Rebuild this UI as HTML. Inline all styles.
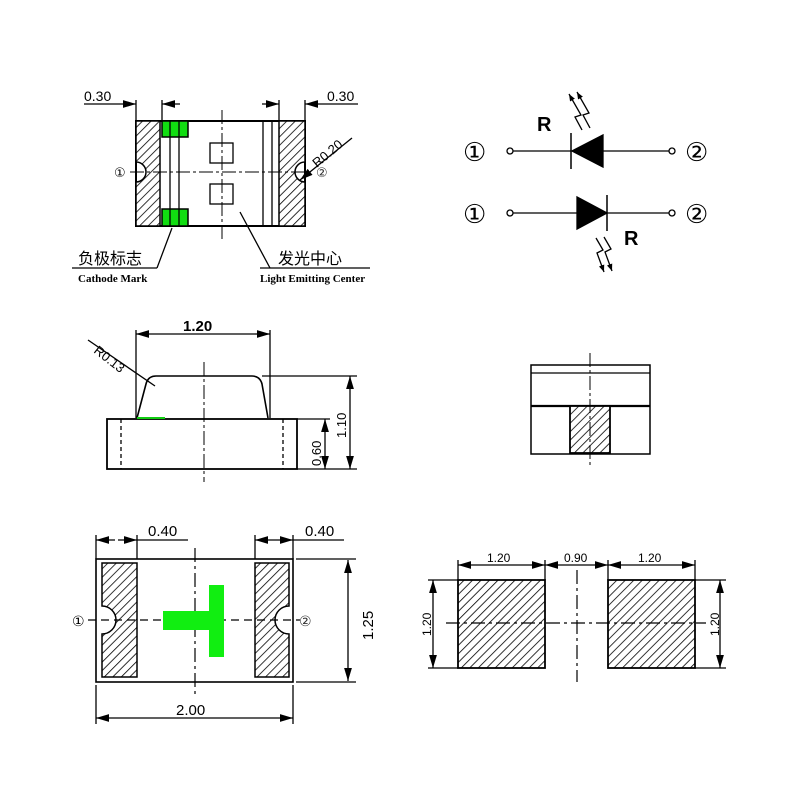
<!DOCTYPE html>
<html><head><meta charset="utf-8"><style>body{margin:0;background:#fff}svg{display:block}</style></head><body>
<svg width="800" height="800" viewBox="0 0 800 800" xmlns="http://www.w3.org/2000/svg" font-family="Liberation Sans, sans-serif">
<defs>
<pattern id="h" patternUnits="userSpaceOnUse" width="6" height="6" patternTransform="rotate(45)">
<rect width="6" height="6" fill="#fff"/><line x1="0" y1="0" x2="0" y2="6" stroke="#000" stroke-width="1.6"/></pattern>
<marker id="a" viewBox="0 0 10 6" refX="10" refY="3" markerWidth="10" markerHeight="6" orient="auto-start-reverse"><path d="M0,0L10,3L0,6z" fill="#000"/></marker>
<marker id="b" viewBox="0 0 10 8" refX="10" refY="4" markerWidth="7" markerHeight="6" orient="auto" markerUnits="userSpaceOnUse"><path d="M0,0L10,4L0,8z" fill="#000"/></marker>
</defs>
<g stroke="#000" fill="none" stroke-width="1.3">
<!-- top-left view -->
<rect x="136" y="121" width="169" height="105" stroke-width="2"/>
<path d="M136,121H160V226H136V182A10,10 0 0 0 136,162Z" fill="url(#h)" stroke-width="1.5"/>
<path d="M305,121H279V226H305V182A10,10 0 0 1 305,162Z" fill="url(#h)" stroke-width="1.5"/>
<rect x="162" y="121" width="26" height="16" fill="#1d1" stroke-width="1.5"/>
<rect x="162" y="209" width="26" height="17" fill="#1d1" stroke-width="1.5"/>
<line x1="170" y1="121" x2="170" y2="226"/><line x1="179" y1="121" x2="179" y2="226"/>
<line x1="263" y1="121" x2="263" y2="226"/><line x1="272" y1="121" x2="272" y2="226"/>
<rect x="210" y="143" width="23" height="20"/><rect x="210" y="184" width="23" height="20"/>
<line x1="222" y1="110" x2="222" y2="240" stroke-dasharray="14,3,3,3" stroke-width="1"/>
<line x1="130" y1="172" x2="310" y2="172" stroke-dasharray="14,3,3,3" stroke-width="1"/>
<line x1="136" y1="100" x2="136" y2="121"/><line x1="162" y1="100" x2="162" y2="121"/>
<line x1="84" y1="104" x2="136" y2="104" marker-end="url(#a)"/><line x1="180" y1="104" x2="162" y2="104" marker-end="url(#a)"/>
<line x1="279" y1="100" x2="279" y2="121"/><line x1="305" y1="100" x2="305" y2="121"/>
<line x1="262" y1="104" x2="279" y2="104" marker-end="url(#a)"/><line x1="358" y1="104" x2="305" y2="104" marker-end="url(#a)"/>
<line x1="352" y1="138" x2="300" y2="180" marker-end="url(#a)"/>
<line x1="172" y1="228" x2="157" y2="268"/><line x1="72" y1="268" x2="157" y2="268"/>
<line x1="240" y1="212" x2="270" y2="268"/><line x1="260" y1="268" x2="370" y2="268"/>
<!-- diodes -->
<line x1="513" y1="151" x2="669" y2="151"/><circle cx="510" cy="151" r="3"/><circle cx="672" cy="151" r="3"/>
<path d="M572,151L603,135V167Z" fill="#000"/><line x1="571" y1="133" x2="571" y2="169" stroke-width="1.5"/>
<polyline points="582,130 575,117 581,115 569,94" marker-end="url(#b)"/><polyline points="590,128 583,115 589,113 577,92" marker-end="url(#b)"/>
<line x1="513" y1="213" x2="669" y2="213"/><circle cx="510" cy="213" r="3"/><circle cx="672" cy="213" r="3"/>
<path d="M607,213L577,197V229Z" fill="#000"/><line x1="607" y1="195" x2="607" y2="231" stroke-width="1.5"/>
<polyline points="596,238 603,250 597,253 604,272" marker-end="url(#b)"/><polyline points="604,237 611,249 605,252 612,271" marker-end="url(#b)"/>
<!-- side view -->
<rect x="107" y="419" width="190" height="50" stroke-width="1.8"/>
<line x1="121" y1="419" x2="121" y2="469" stroke-dasharray="4,3"/><line x1="283" y1="419" x2="283" y2="469" stroke-dasharray="4,3"/>
<path d="M137,418L146,384Q148,376 156,376H252Q260,376 262,384L268,418" stroke-width="1.6"/>
<line x1="137" y1="418" x2="165" y2="418" stroke="#1c1" stroke-width="2"/>
<line x1="204" y1="362" x2="204" y2="482" stroke-dasharray="14,3,3,3" stroke-width="1"/>
<line x1="136" y1="330" x2="136" y2="418"/><line x1="270" y1="330" x2="270" y2="418"/>
<line x1="150" y1="334" x2="136" y2="334" marker-end="url(#a)"/><line x1="150" y1="334" x2="255" y2="334"/><line x1="255" y1="334" x2="270" y2="334" marker-end="url(#a)"/>
<line x1="262" y1="376" x2="357" y2="376"/><line x1="297" y1="469" x2="357" y2="469"/><line x1="297" y1="419" x2="330" y2="419"/>
<line x1="350" y1="420" x2="350" y2="376" marker-end="url(#a)"/><line x1="350" y1="420" x2="350" y2="469" marker-end="url(#a)"/>
<line x1="325" y1="444" x2="325" y2="419" marker-end="url(#a)"/><line x1="325" y1="444" x2="325" y2="469" marker-end="url(#a)"/>
<line x1="88" y1="340" x2="155" y2="386"/>
<!-- right side view -->
<rect x="531" y="365" width="119" height="89" stroke-width="1.5"/>
<line x1="531" y1="373" x2="650" y2="373"/><line x1="531" y1="406" x2="650" y2="406" stroke-width="2.2"/>
<rect x="570" y="406" width="40" height="47" fill="url(#h)" stroke-width="1.8"/>
<line x1="590" y1="353" x2="590" y2="465" stroke-dasharray="14,3,3,3" stroke-width="1"/>
<!-- bottom-left -->
<rect x="96" y="559" width="197" height="123" stroke-width="1.6"/>
<path d="M102,563H137V677H102V634A14,14 0 0 0 102,606Z" fill="url(#h)" stroke-width="1.5"/>
<path d="M289,563H255V677H289V634A14,14 0 0 1 289,606Z" fill="url(#h)" stroke-width="1.5"/>
<line x1="88" y1="620" x2="300" y2="620" stroke-dasharray="8,5" stroke-width="1.2"/>
<line x1="195" y1="548" x2="195" y2="695" stroke-dasharray="14,4,3,4" stroke-width="1.2"/>
<path d="M163,611H209V585H224V657H209V630H163Z" fill="#1e1" stroke="none"/>
<line x1="96" y1="535" x2="96" y2="559"/><line x1="137" y1="535" x2="137" y2="559"/>
<line x1="115" y1="540" x2="96" y2="540" marker-end="url(#a)"/><line x1="118" y1="540" x2="137" y2="540" marker-end="url(#a)"/><line x1="137" y1="540" x2="188" y2="540"/>
<line x1="255" y1="535" x2="255" y2="559"/><line x1="293" y1="535" x2="293" y2="559"/>
<line x1="275" y1="540" x2="255" y2="540" marker-end="url(#a)"/><line x1="275" y1="540" x2="293" y2="540" marker-end="url(#a)"/><line x1="293" y1="540" x2="344" y2="540"/>
<line x1="296" y1="559" x2="356" y2="559"/><line x1="296" y1="682" x2="356" y2="682"/>
<line x1="348" y1="620" x2="348" y2="560" marker-end="url(#a)"/><line x1="348" y1="620" x2="348" y2="681" marker-end="url(#a)"/>
<line x1="96" y1="685" x2="96" y2="724"/><line x1="293" y1="685" x2="293" y2="724"/>
<line x1="195" y1="718" x2="96" y2="718" marker-end="url(#a)"/><line x1="195" y1="718" x2="293" y2="718" marker-end="url(#a)"/>
<!-- bottom-right -->
<rect x="458" y="580" width="87" height="88" fill="url(#h)" stroke-width="1.8"/>
<rect x="608" y="580" width="87" height="88" fill="url(#h)" stroke-width="1.8"/>
<line x1="446" y1="623" x2="706" y2="623" stroke-dasharray="14,4,3,4" stroke-width="1.2"/>
<line x1="577" y1="570" x2="577" y2="682" stroke-dasharray="14,4,3,4" stroke-width="1.2"/>
<line x1="458" y1="560" x2="458" y2="580"/><line x1="545" y1="560" x2="545" y2="580"/><line x1="608" y1="560" x2="608" y2="580"/><line x1="695" y1="560" x2="695" y2="580"/>
<line x1="500" y1="565" x2="458" y2="565" marker-end="url(#a)"/><line x1="500" y1="565" x2="545" y2="565" marker-end="url(#a)"/>
<line x1="577" y1="565" x2="545" y2="565" marker-end="url(#a)"/><line x1="577" y1="565" x2="608" y2="565" marker-end="url(#a)"/>
<line x1="652" y1="565" x2="608" y2="565" marker-end="url(#a)"/><line x1="652" y1="565" x2="695" y2="565" marker-end="url(#a)"/>
<line x1="428" y1="580" x2="458" y2="580"/><line x1="428" y1="668" x2="458" y2="668"/>
<line x1="433" y1="624" x2="433" y2="580" marker-end="url(#a)"/><line x1="433" y1="624" x2="433" y2="668" marker-end="url(#a)"/>
<line x1="695" y1="580" x2="726" y2="580"/><line x1="695" y1="668" x2="726" y2="668"/>
<line x1="720" y1="624" x2="720" y2="580" marker-end="url(#a)"/><line x1="720" y1="624" x2="720" y2="668" marker-end="url(#a)"/>
</g>
<g fill="#000">
<text x="84" y="101" font-size="14">0.30</text><text x="327" y="101" font-size="14">0.30</text>
<text x="317" y="168" font-size="13" transform="rotate(-40 317 168)">R0.20</text>
<text x="114" y="177" font-size="13" font-family="DejaVu Sans">①</text><text x="316" y="177" font-size="13" font-family="DejaVu Sans" fill="#333">②</text>
<text x="78" y="264" font-size="16" font-family="Noto Sans CJK SC, sans-serif">负极标志</text>
<text x="78" y="282" font-size="11" font-weight="bold" font-family="Liberation Serif, serif">Cathode Mark</text>
<text x="278" y="264" font-size="16" font-family="Noto Sans CJK SC, sans-serif">发光中心</text>
<text x="260" y="282" font-size="11" font-weight="bold" font-family="Liberation Serif, serif">Light Emitting Center</text>
<text x="463" y="161" font-size="26" font-family="DejaVu Sans">①</text><text x="685" y="161" font-size="26" font-family="DejaVu Sans">②</text>
<text x="463" y="223" font-size="26" font-family="DejaVu Sans">①</text><text x="685" y="223" font-size="26" font-family="DejaVu Sans">②</text>
<text x="537" y="131" font-size="20" font-weight="bold">R</text><text x="624" y="245" font-size="20" font-weight="bold">R</text>
<text x="183" y="331" font-size="15" font-weight="bold">1.20</text>
<text x="93" y="352" font-size="13" transform="rotate(38 93 352)">R0.13</text>
<text x="321" y="466" font-size="13" transform="rotate(-90 321 466)">0.60</text>
<text x="346" y="438" font-size="13" transform="rotate(-90 346 438)">1.10</text>
<text x="148" y="536" font-size="15">0.40</text><text x="305" y="536" font-size="15">0.40</text>
<text x="72" y="626" font-size="14" font-family="DejaVu Sans">①</text><text x="299" y="626" font-size="14" font-family="DejaVu Sans" fill="#333">②</text>
<text x="373" y="640" font-size="15" transform="rotate(-90 373 640)">1.25</text>
<text x="176" y="715" font-size="15">2.00</text>
<text x="487" y="562" font-size="12">1.20</text><text x="564" y="562" font-size="12">0.90</text><text x="638" y="562" font-size="12">1.20</text>
<text x="431" y="636" font-size="12" transform="rotate(-90 431 636)">1.20</text>
<text x="719" y="636" font-size="12" transform="rotate(-90 719 636)">1.20</text>
</g>
</svg>
</body></html>
